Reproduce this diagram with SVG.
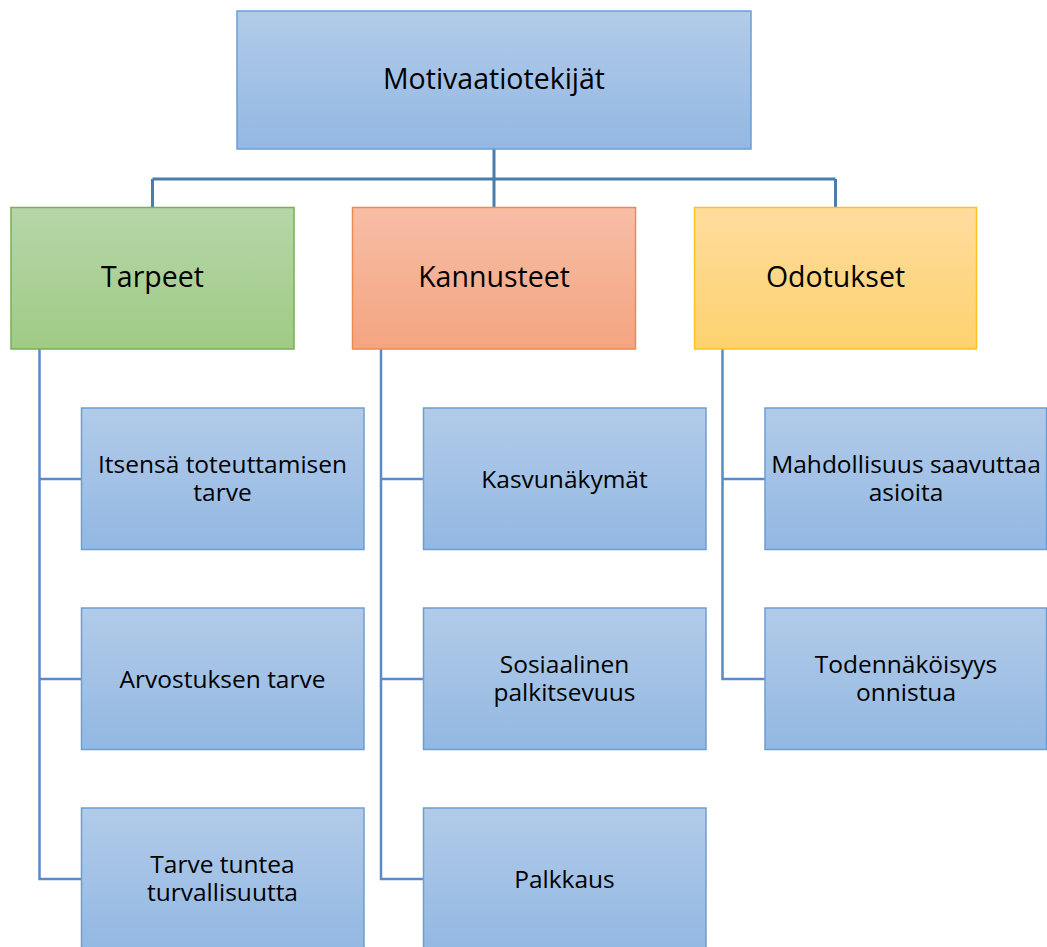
<svg xmlns="http://www.w3.org/2000/svg" width="1047" height="947" viewBox="0 0 1047 947">
<defs>
<linearGradient id="gBlue" x1="0" y1="0" x2="0" y2="1"><stop offset="0" stop-color="#b2cbe9"/><stop offset="1" stop-color="#93b8e2"/></linearGradient>
<linearGradient id="gGreen" x1="0" y1="0" x2="0" y2="1"><stop offset="0" stop-color="#b6d6a8"/><stop offset="1" stop-color="#9fcb85"/></linearGradient>
<linearGradient id="gOrange" x1="0" y1="0" x2="0" y2="1"><stop offset="0" stop-color="#f7bea6"/><stop offset="1" stop-color="#f4a480"/></linearGradient>
<linearGradient id="gYellow" x1="0" y1="0" x2="0" y2="1"><stop offset="0" stop-color="#fedc9e"/><stop offset="1" stop-color="#fdd26e"/></linearGradient>
</defs>
<style>
.blue{fill:url(#gBlue);stroke:#6a9fd6;stroke-width:1.5}
.green{fill:url(#gGreen);stroke:#78b052;stroke-width:1.5}
.orange{fill:url(#gOrange);stroke:#ef8a4c;stroke-width:1.5}
.yellow{fill:url(#gYellow);stroke:#fdc21e;stroke-width:1.5}
.big{font-family:"Open Sans","Liberation Sans",sans-serif;font-size:28.5px;fill:#000;text-anchor:middle}
.small{font-family:"Open Sans","Liberation Sans",sans-serif;font-size:24.5px;fill:#000;text-anchor:middle}
.top{fill:none;stroke:#4b7cae;stroke-width:3}
.sub{fill:none;stroke:#5a8bc6;stroke-width:2.5}
</style>
<g id="connectors">
<path class="top" d="M494,149 V207 M152.5,179 H835.5 M152.5,179 V207 M835.5,179 V207"/>
<path class="sub" d="M39.5,349 V879 H81 M39.5,479 H81 M39.5,679 H81"/>
<path class="sub" d="M381,349 V879 H423 M381,479 H423 M381,679 H423"/>
<path class="sub" d="M722.5,349 V679 H765 M722.5,479 H765"/>
</g>
<g id="n-motivaatiotekijat"><rect class="blue" x="237" y="11" width="514" height="138"/><text class="big" x="494" y="89">Motivaatiotekijät</text></g>
<g id="n-tarpeet"><rect class="green" x="11" y="207.5" width="283" height="141.5"/><text class="big" x="152.5" y="287">Tarpeet</text></g>
<g id="n-kannusteet"><rect class="orange" x="352.5" y="207.5" width="283" height="141.5"/><text class="big" x="494" y="287">Kannusteet</text></g>
<g id="n-odotukset"><rect class="yellow" x="694.5" y="207.5" width="282" height="141.5"/><text class="big" x="835.5" y="287">Odotukset</text></g>
<g id="n-itsensa"><rect class="blue" x="81.5" y="408" width="282.5" height="141.5"/><text class="small" x="222.5" y="473">Itsensä toteuttamisen</text><text class="small" x="222.5" y="501">tarve</text></g>
<g id="n-arvostus"><rect class="blue" x="81.5" y="608" width="282.5" height="141.5"/><text class="small" x="222.5" y="688">Arvostuksen tarve</text></g>
<g id="n-turvallisuus"><rect class="blue" x="81.5" y="808" width="282.5" height="141.5"/><text class="small" x="222.5" y="873">Tarve tuntea</text><text class="small" x="222.5" y="901">turvallisuutta</text></g>
<g id="n-kasvu"><rect class="blue" x="423.5" y="408" width="282.5" height="141.5"/><text class="small" x="564.5" y="488">Kasvunäkymät</text></g>
<g id="n-sosiaalinen"><rect class="blue" x="423.5" y="608" width="282.5" height="141.5"/><text class="small" x="564.5" y="673">Sosiaalinen</text><text class="small" x="564.5" y="701">palkitsevuus</text></g>
<g id="n-palkkaus"><rect class="blue" x="423.5" y="808" width="282.5" height="141.5"/><text class="small" x="564.5" y="888">Palkkaus</text></g>
<g id="n-mahdollisuus"><rect class="blue" x="765" y="408" width="281.5" height="141.5"/><text class="small" x="906" y="473">Mahdollisuus saavuttaa</text><text class="small" x="906" y="501">asioita</text></g>
<g id="n-todennakoisyys"><rect class="blue" x="765" y="608" width="281.5" height="141.5"/><text class="small" x="906" y="673">Todennäköisyys</text><text class="small" x="906" y="701">onnistua</text></g>
</svg>
